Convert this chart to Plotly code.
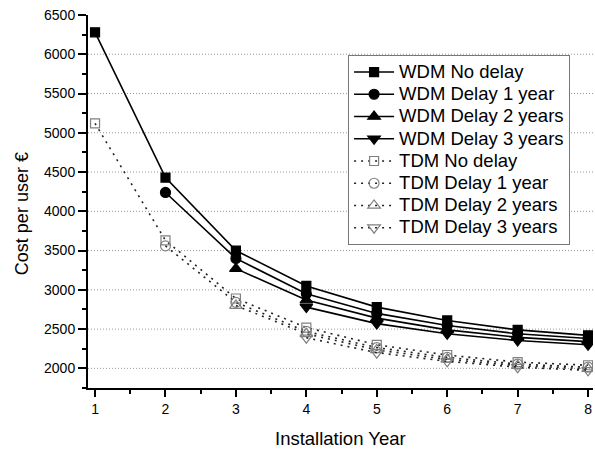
import plotly.graph_objects as go

years = [1, 2, 3, 4, 5, 6, 7, 8]

wdm_no_delay = [6280, 4430, 3500, 3050, 2780, 2610, 2490, 2420]
wdm_delay_1 = [None, 4240, 3400, 2950, 2700, 2545, 2440, 2380]
wdm_delay_2 = [None, None, 3270, 2870, 2640, 2490, 2395, 2340]
wdm_delay_3 = [None, None, None, 2780, 2570, 2440, 2355, 2300]

tdm_no_delay = [5120, 3630, 2890, 2520, 2300, 2170, 2080, 2040]
tdm_delay_1 = [None, 3560, 2840, 2470, 2265, 2140, 2055, 2015]
tdm_delay_2 = [None, None, 2800, 2440, 2235, 2115, 2035, 1995]
tdm_delay_3 = [None, None, None, 2390, 2200, 2090, 2015, 1975]

grid_levels = [2000, 2500, 3000, 3500, 4000, 4500, 5000, 5500, 6000]

series = [
    ("WDM No delay", wdm_no_delay, "square", "black", "solid", 9),
    ("WDM Delay 1 year", wdm_delay_1, "circle", "black", "solid", 10),
    ("WDM Delay 2 years", wdm_delay_2, "triangle-up", "black", "solid", 11),
    ("WDM Delay 3 years", wdm_delay_3, "triangle-down", "black", "solid", 11),
    ("TDM No delay", tdm_no_delay, "square-open", "#808080", "2px,5px", 9),
    ("TDM Delay 1 year", tdm_delay_1, "circle-open", "#808080", "2px,5px", 10),
    ("TDM Delay 2 years", tdm_delay_2, "triangle-up-open", "#808080", "2px,5px", 11),
    ("TDM Delay 3 years", tdm_delay_3, "triangle-down-open", "#808080", "2px,5px", 11),
]

font_family = "Liberation Sans, Arial, sans-serif"

fig = go.Figure()
for name, vals, sym, mcol, dash, size in series:
    fig.add_trace(go.Scatter(
        x=years, y=vals,
        name='<span style="font-size:18.5px">' + name + '</span>',
        mode="lines+markers",
        line=dict(color="#222222" if dash != "solid" else "black", width=1.6, dash=dash),
        marker=dict(symbol=sym, size=size, color=mcol,
                    line=dict(color=mcol, width=1.2)),
        connectgaps=False,
    ))

for g in grid_levels:
    fig.add_shape(type="line", xref="paper", x0=0, x1=1, yref="y", y0=g, y1=g,
                  line=dict(color="#999999", width=1, dash="1px,2px"), layer="below")

fig.update_layout(
    width=595, height=449,
    margin=dict(l=88, r=2, t=15, b=61),
    paper_bgcolor="white", plot_bgcolor="white",
    font=dict(family=font_family, color="black", size=14),
    showlegend=True,
    legend=dict(
        x=0.515, y=0.893, xanchor="left", yanchor="top",
        bgcolor="white", bordercolor="#777777", borderwidth=1,
        font=dict(size=14.8, family=font_family, color="black"),
        tracegroupgap=0, itemwidth=40,
    ),
    xaxis=dict(
        range=[0.9, 8.07], tickmode="linear", tick0=1, dtick=1,
        showline=True, linecolor="black", linewidth=2,
        ticks="outside", ticklen=7, tickwidth=1.5, tickcolor="black",
        minor=dict(ticks="outside", ticklen=4, tickwidth=1.5, tickcolor="black",
                   dtick=0.5, tick0=1, showgrid=False),
        showgrid=False, zeroline=False,
        tickfont=dict(size=14),
    ),
    yaxis=dict(
        range=[1750, 6500], tickmode="linear", tick0=2000, dtick=500,
        showline=True, linecolor="black", linewidth=2,
        ticks="outside", ticklen=8, tickwidth=1.5, tickcolor="black",
        minor=dict(ticks="outside", ticklen=4, tickwidth=1.5, tickcolor="black",
                   dtick=250, tick0=2000, showgrid=False),
        showgrid=False, zeroline=False,
        tickfont=dict(size=14),
    ),
    annotations=[
        dict(text="Installation Year", xref="paper", yref="paper",
             x=0.5, y=-0.135, xanchor="center", yanchor="middle",
             showarrow=False, font=dict(size=18.5)),
        dict(text="Cost per user €", xref="paper", yref="paper",
             x=-0.132, y=0.467, xanchor="center", yanchor="middle",
             textangle=-90, showarrow=False, font=dict(size=18)),
    ],
)

fig.write_html("out.html")
